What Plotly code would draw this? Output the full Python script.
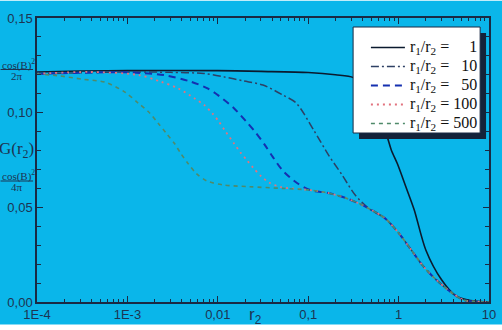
import plotly.graph_objects as go

# ---------------- data ----------------
x_r1 = [1e-4, 3e-4, 1e-3, 1e-2, 3e-2, 0.1, 0.2, 0.316, 0.5, 0.74, 0.83, 0.97, 1.2, 1.49, 2.0, 3.0, 4.3, 5.9, 8.0, 10.0]
y_r1 = [0.1215, 0.1220, 0.1222, 0.1222, 0.1218, 0.1212, 0.1200, 0.1185, 0.1090, 0.0880, 0.0803, 0.0730, 0.0610, 0.0486, 0.0275, 0.0116, 0.0032, 0.0010, 0.0002, 0.0]

x_r10 = [1e-4, 1e-3, 3e-3, 7e-3, 0.0117, 0.019, 0.0316, 0.0525, 0.074, 0.115, 0.168, 0.237, 0.331, 0.48, 0.70, 0.98, 1.38, 1.9, 2.63, 3.76, 5.25, 7.1, 10.0]
y_r10 = [0.1205, 0.1215, 0.1213, 0.1207, 0.1189, 0.1168, 0.1146, 0.1093, 0.1050, 0.0908, 0.0776, 0.0671, 0.0565, 0.0490, 0.0444, 0.0370, 0.0275, 0.0185, 0.0116, 0.0053, 0.0010, 0.0002, 0.0]

x_r50 = [1e-4, 1e-3, 2.57e-3, 5e-3, 7.6e-3, 0.0102, 0.015, 0.0209, 0.0257, 0.0331, 0.0407, 0.0525, 0.0759, 0.107, 0.166, 0.257, 0.355, 0.50, 0.70, 0.98, 1.38, 1.9, 2.63, 3.76, 5.25, 7.1, 10.0]
y_r50 = [0.1205, 0.1213, 0.1198, 0.1164, 0.1130, 0.1090, 0.1025, 0.0950, 0.0900, 0.0830, 0.0765, 0.0693, 0.0627, 0.0590, 0.0576, 0.0550, 0.0523, 0.0486, 0.0444, 0.0370, 0.0275, 0.0185, 0.0116, 0.0053, 0.0010, 0.0002, 0.0]

x_r100 = [1e-4, 3.8e-4, 1.32e-3, 2.34e-3, 3.63e-3, 5.5e-3, 7.1e-3, 8.7e-3, 0.0102, 0.012, 0.015, 0.0178, 0.0209, 0.0245, 0.030, 0.0372, 0.050, 0.10, 0.166, 0.257, 0.355, 0.50, 0.70, 0.98, 1.38, 1.9, 2.63, 3.76, 5.25, 7.1, 10.0]
y_r100 = [0.1205, 0.1215, 0.1199, 0.1164, 0.1129, 0.1076, 0.1040, 0.0996, 0.0955, 0.0905, 0.0840, 0.0790, 0.0750, 0.0710, 0.0665, 0.0630, 0.0607, 0.0592, 0.0576, 0.0550, 0.0523, 0.0486, 0.0444, 0.0370, 0.0275, 0.0185, 0.0116, 0.0053, 0.0010, 0.0002, 0.0]

x_r500 = [1e-4, 1.78e-4, 3.16e-4, 5.75e-4, 9.5e-4, 1.32e-3, 1.7e-3, 2.19e-3, 2.69e-3, 3.31e-3, 3.89e-3, 4.68e-3, 5.75e-3, 7.6e-3, 0.0117, 0.0224, 0.0525, 0.10, 0.166, 0.257, 0.355, 0.50, 0.70, 0.98, 1.38, 1.9, 2.63, 3.76, 5.25, 7.1, 10.0]
y_r500 = [0.1205, 0.1194, 0.1177, 0.1160, 0.1107, 0.1050, 0.1006, 0.0944, 0.0891, 0.0838, 0.0785, 0.0732, 0.0680, 0.0639, 0.0618, 0.0609, 0.0600, 0.0592, 0.0576, 0.0550, 0.0523, 0.0486, 0.0444, 0.0370, 0.0275, 0.0185, 0.0116, 0.0053, 0.0010, 0.0002, 0.0]

legend_values = ["\u2007\u20071", "\u200710", "\u200750", "100", "500"]

x_tickvals = [1e-4, 1e-3, 1e-2, 1e-1, 1, 10]
x_ticktext = ["1E-4", "1E-3", "0,01", "0,1", "1", "10"]
y_tickvals = [0.0, 0.05, 0.10, 0.15]
y_ticktext = ["0,00", "0,05", "0,10", "0,15"]

# ---------------- style ----------------
BG = "#0AB6EA"
AX = "#1a2a44"
TXT = "#1d3452"

x_minor = [m * 10 ** e for e in range(-4, 1) for m in range(2, 10)]
y_minor = [i / 100 for i in range(0, 16)]

fig = go.Figure()
series = [
    (x_r1, y_r1, "#0b1a2e", "solid", 1.6),
    (x_r10, y_r10, "#2e4064", "8px,3px,2px,3px", 1.5),
    (x_r50, y_r50, "#1530b0", "7px,5px", 2.0),
    (x_r100, y_r100, "#e2727e", "2px,4px", 1.8),
    (x_r500, y_r500, "#4f8a6a", "4px,4px", 1.6),
]
for (xs, ys, col, dash, w), val in zip(series, legend_values):
    name = ('<span style="font-size:16px">r<sub>1</sub>/r<sub>2</sub> = ' + val + '</span>')
    fig.add_trace(go.Scatter(x=xs, y=ys, mode="lines", name=name,
                             line=dict(color=col, dash=dash, width=w, shape="spline", smoothing=0.8)))

W, H = 502, 330
L, R, T, B = 37, 6, 18, 28
PW, PH = W - L - R, H - T - B


def px(xp):
    return (xp - L) / PW


def py(yp):
    return (H - B - yp) / PH


shapes = [
    dict(type="rect", xref="paper", yref="paper", x0=px(364), x1=px(493), y0=py(139), y1=py(33),
         fillcolor="#14233a", line=dict(width=0), layer="above"),
    dict(type="rect", xref="paper", yref="paper", x0=px(358), x1=px(487), y0=py(133), y1=py(27),
         fillcolor="white", line=dict(color="#1a2a44", width=1), layer="above"),
    dict(type="line", xref="paper", yref="paper", x0=px(0), x1=px(33), y0=py(69.5), y1=py(69.5),
         line=dict(color=TXT, width=1)),
    dict(type="line", xref="paper", yref="paper", x0=px(0), x1=px(33), y0=py(181), y1=py(181),
         line=dict(color=TXT, width=1)),
    dict(type="rect", xref="paper", yref="paper", x0=px(-5), x1=px(510), y0=py(336), y1=py(324.5),
         fillcolor="white", line=dict(width=0), layer="above"),
    dict(type="rect", xref="paper", yref="paper", x0=px(-5), x1=px(510), y0=py(0.8), y1=py(-5),
         fillcolor="white", line=dict(width=0), layer="above"),
]

serif = "Liberation Serif"
annotations = [
    dict(text="cos(B)<sup>2</sup>", x=px(-1), y=py(64), xref="paper", yref="paper", xanchor="left",
         yanchor="middle", showarrow=False, font=dict(family=serif, size=11, color=TXT)),
    dict(text="2π", x=px(17), y=py(75.5), xref="paper", yref="paper", xanchor="center",
         yanchor="middle", showarrow=False, font=dict(family=serif, size=11, color=TXT)),
    dict(text="cos(B)<sup>2</sup>", x=px(-1), y=py(175.5), xref="paper", yref="paper", xanchor="left",
         yanchor="middle", showarrow=False, font=dict(family=serif, size=11, color=TXT)),
    dict(text="4π", x=px(17), y=py(187), xref="paper", yref="paper", xanchor="center",
         yanchor="middle", showarrow=False, font=dict(family=serif, size=11, color=TXT)),
    dict(text="G(r<sub>2</sub>)", x=px(35.5), y=py(150), xref="paper", yref="paper", xanchor="right",
         yanchor="middle", showarrow=False, font=dict(family=serif, size=17, color=TXT)),
    dict(text="r<sub>2</sub>", x=px(250), y=py(316), xref="paper", yref="paper", xanchor="left",
         yanchor="middle", showarrow=False, font=dict(family="Liberation Sans", size=17, color=TXT)),
]

fig.update_layout(
    width=W, height=H,
    margin=dict(l=L, r=R, t=T, b=B, pad=0),
    paper_bgcolor=BG, plot_bgcolor=BG,
    showlegend=True,
    legend=dict(x=px(371), y=py(33), xanchor="left", yanchor="top",
                bgcolor="rgba(0,0,0,0)", borderwidth=0,
                font=dict(family=serif, size=11, color="#111111"),
                itemwidth=34, tracegroupgap=0),
    shapes=shapes,
    annotations=annotations,
    font=dict(family="Liberation Sans", size=13, color=TXT),
)

fig.update_xaxes(type="log", range=[-4, 1], tickmode="array", tickvals=x_tickvals, ticktext=x_ticktext,
                 showgrid=False, zeroline=False, showline=True, linecolor=AX, linewidth=1.5,
                 mirror="allticks", ticks="inside", ticklen=6, tickcolor=AX, tickwidth=1,
                 tickfont=dict(family="Liberation Sans", size=13, color=TXT),
                 minor=dict(tickmode="array", tickvals=x_minor, ticks="inside", ticklen=3,
                            tickcolor=AX, tickwidth=1, showgrid=False))
fig.update_yaxes(range=[0, 0.15], tickmode="array", tickvals=y_tickvals, ticktext=y_ticktext,
                 showgrid=False, zeroline=False, showline=True, linecolor=AX, linewidth=1.5,
                 mirror="allticks", ticks="inside", ticklen=6, tickcolor=AX, tickwidth=1,
                 tickfont=dict(family="Liberation Sans", size=13, color=TXT),
                 minor=dict(tickmode="array", tickvals=y_minor, ticks="inside", ticklen=4,
                            tickcolor=AX, tickwidth=1, showgrid=False))

fig.write_html("out.html")
